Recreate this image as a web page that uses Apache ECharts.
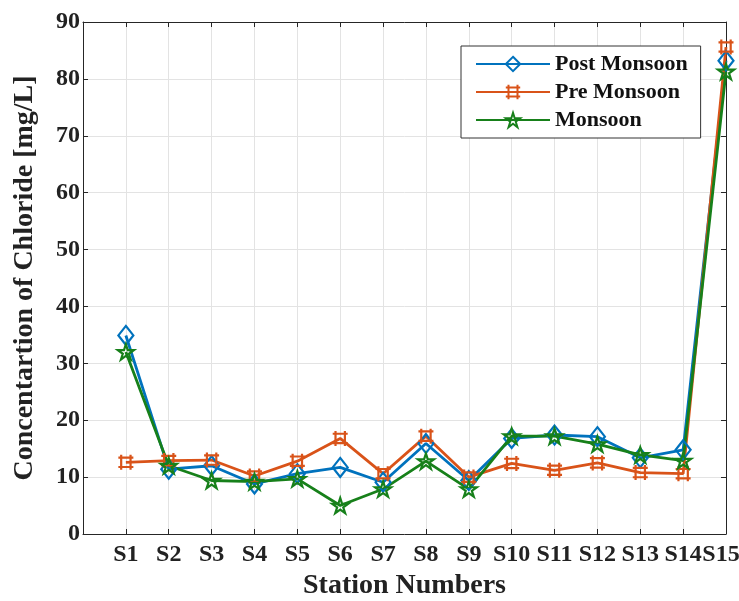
<!DOCTYPE html>
<html>
<head>
<meta charset="utf-8">
<script src="https://cdn.jsdelivr.net/npm/echarts@6/dist/echarts.min.js"></script>
<style>
html,body{margin:0;padding:0;background:#fff;}
#chart{width:739px;height:601px;}
</style>
</head>
<body>
<div id="chart"></div>
<script>
var categories = ['S1','S2','S3','S4','S5','S6','S7','S8','S9','S10','S11','S12','S13','S14','S15'];
var postMonsoon = [34.9, 11.4, 12.0, 8.8, 10.6, 11.7, 9.1, 15.9, 9.4, 16.8, 17.4, 17.1, 13.4, 14.8, 83.2];
var preMonsoon  = [12.6, 12.9, 13.0, 10.2, 12.8, 16.8, 10.6, 17.2, 10.0, 12.4, 11.2, 12.5, 10.8, 10.6, 85.6];
var monsoon     = [32.0, 12.0, 9.4, 9.2, 9.7, 5.0, 7.9, 12.8, 7.9, 17.2, 17.2, 15.8, 13.9, 12.9, 81.3];
var yTicks = [0, 10, 20, 30, 40, 50, 60, 70, 80, 90];

var FONT = "'Liberation Serif','Times New Roman',serif";
var AX = '#262626';

function pts(arr){ return arr.map(function(v,i){ return [i+1, v]; }); }

var hashPath = 'path://M3,0L3,16M13,0L13,16M0,3L16,3M0,13L16,13';
var starPath = 'path://M10,0L12.245,6.91L19.511,6.91L13.633,11.18L15.878,18.09L10,13.82L4.122,18.09L6.367,11.18L0.489,6.91L7.755,6.91Z';

function mkSeries(name, data, color, symbol, size){
  return {
    name: name, type: 'line', data: pts(data),
    symbol: symbol, symbolSize: size, symbolKeepAspect: true, showAllSymbol: true,
    lineStyle: {color: color, width: 2.8},
    itemStyle: {color: 'rgba(255,255,255,0)', borderColor: color, borderWidth: 2.2},
    emphasis: {disabled: true},
    animation: false
  };
}

var chart = echarts.init(document.getElementById('chart'));
var baseX = {
  type: 'value', min: 0, max: 15, interval: 1,
  axisLine: {show: true, onZero: false, lineStyle: {color: AX, width: 1}},
  axisTick: {show: true, inside: true, length: 5, lineStyle: {color: AX}},
  splitLine: {show: true, lineStyle: {color: '#e3e3e3', width: 1}}
};
var baseY = {
  type: 'value', min: yTicks[0], max: yTicks[yTicks.length-1], interval: yTicks[1]-yTicks[0],
  axisLine: {show: true, onZero: false, lineStyle: {color: AX, width: 1}},
  axisTick: {show: true, inside: true, length: 5, lineStyle: {color: AX}},
  splitLine: {show: true, lineStyle: {color: '#e3e3e3', width: 1}}
};

var labelFont = {fontFamily: FONT, fontWeight: 'bold', fontSize: 24, color: '#222'};

chart.setOption({
  backgroundColor: '#fff',
  animation: false,
  grid: {left: 83, right: 13, top: 22, bottom: 67, containLabel: false, outerBoundsMode: 'none'},
  legend: {
    orient: 'vertical', left: 461, top: 46,
    backgroundColor: '#fff', borderColor: '#333', borderWidth: 1, borderRadius: 0,
    padding: [7, 13, 7, 14], itemGap: 6, itemWidth: 74, itemHeight: 18,
    textStyle: {fontFamily: FONT, fontWeight: 'bold', fontSize: 22, color: '#111'},
    data: ['Post Monsoon', 'Pre Monsoon', 'Monsoon']
  },
  xAxis: [
    Object.assign({}, baseX, {
      position: 'bottom',
      name: 'Station Numbers', nameLocation: 'middle', nameGap: 38,
      nameTextStyle: {fontFamily: FONT, fontWeight: 'bold', fontSize: 28, color: '#222'},
      axisLabel: Object.assign({
        margin: 9, showMaxLabel: true, hideOverlap: false,
        formatter: function(v){
          if (v < 1 || v > categories.length) return '';
          return v === categories.length ? '{e|' + categories[v-1] + '}' : categories[v-1];
        },
        rich: {e: Object.assign({padding: [0, 10, 0, 0]}, labelFont)}
      }, labelFont)
    }),
    Object.assign({}, baseX, {position: 'top', axisLabel: {show: false}, splitLine: {show: false}})
  ],
  yAxis: [
    Object.assign({}, baseY, {
      position: 'left',
      name: 'Concentartion of Chloride [mg/L]', nameLocation: 'middle', nameGap: 44,
      nameTextStyle: {fontFamily: FONT, fontWeight: 'bold', fontSize: 28, color: '#222'},
      axisLabel: Object.assign({margin: 3}, labelFont)
    }),
    Object.assign({}, baseY, {position: 'right', axisLabel: {show: false}, splitLine: {show: false}})
  ],
  series: [
    mkSeries('Post Monsoon', postMonsoon, '#0072BD', 'diamond', [15, 19]),
    mkSeries('Pre Monsoon', preMonsoon, '#D95319', hashPath, 15),
    mkSeries('Monsoon', monsoon, '#17801a', starPath, 16)
  ]
});
</script>
</body>
</html>
